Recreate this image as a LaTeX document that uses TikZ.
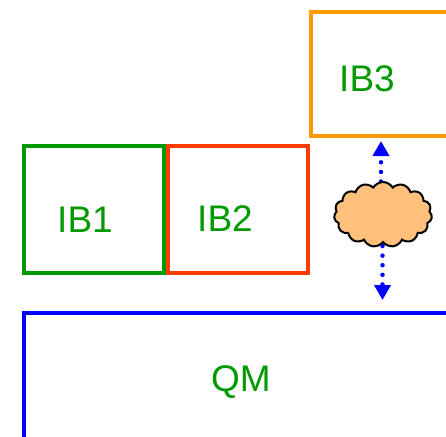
\documentclass[tikz,border=0pt]{standalone}
\usepackage{fontspec}
\setmainfont{Liberation Sans}
\usetikzlibrary{shapes, arrows.meta, positioning, backgrounds}
\definecolor{BoxGreen}{HTML}{009900}
\definecolor{BoxRed}{HTML}{FF3C00}
\definecolor{BoxOrange}{HTML}{FF9900}
\definecolor{BoxBlue}{HTML}{0000FF}
\definecolor{CloudFill}{HTML}{FFC07C}

\begin{document}
\begin{tikzpicture}[x=1pt, y=-1pt, every node/.style={font=\fontsize{37}{37}\selectfont}, >={Triangle[length=15pt, width=16pt]}]
  \tikzset{
    box/.style={rectangle, draw=#1, line width=4.6pt, minimum width=140pt, minimum height=127pt, inner sep=0pt, outer sep=0pt, anchor=north west},
    tag/.style={text=BoxGreen, inner sep=0pt},
    puff/.style={cloud, cloud puffs=15, cloud puff arc=120, aspect=1.5, draw=black, line width=2pt, fill=CloudFill, minimum width=98pt, minimum height=65pt, inner sep=0pt},
    link/.style={->, BoxBlue, line width=4.5pt, line cap=round, dash pattern=on 0pt off 9.6pt}
  }
  \useasboundingbox (0,0) rectangle (446,436);

  \node[box=BoxGreen] (ib1) at (24,146) {};
  \node[box=BoxRed] (ib2) at (168,146) {};
  \node[box=BoxOrange, minimum width=180pt, minimum height=124pt] (ib3) at (311,12) {};
  \node[box=BoxBlue, minimum width=460pt, minimum height=160pt] (qm) at (24,313) {};

  \node[tag] (ib1text) at (85,220) {IB1};
  \node[tag] (ib2text) at (225,219) {IB2};
  \node[tag] (ib3text) at (367,79) {IB3};
  \node[tag] (qmtext) at (241,382) {QM};

  \node[puff] (net) at (383,214.5) {};
  \coordinate (uptip) at (381,141);
  \coordinate (downtip) at (382.5,300);

  % Dotted links run behind the cloud
  \begin{scope}[on background layer]
    \draw[link] (net.center -| uptip) ++(0,-33) -- (uptip);
    \draw[link] (net.center -| downtip) ++(0,31.5) -- (downtip);
  \end{scope}
\end{tikzpicture}
\end{document}
